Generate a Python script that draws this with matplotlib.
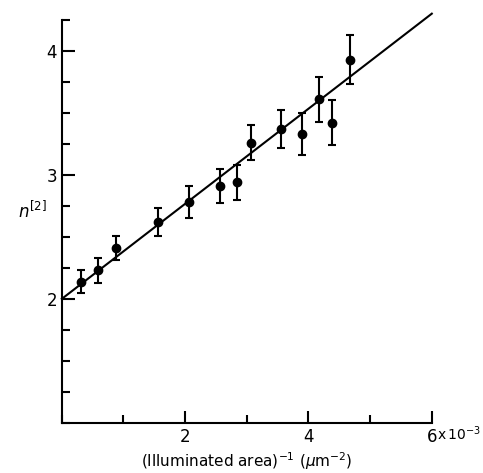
import matplotlib.pyplot as plt
import numpy as np
from matplotlib.ticker import MultipleLocator

# data (x in units of 1e-3 um^-2)
inv_area = [0.31, 0.58, 0.875, 1.56, 2.06, 2.56, 2.84, 3.06, 3.56, 3.89, 4.17, 4.38, 4.67]
n2 = [2.14, 2.23, 2.41, 2.62, 2.78, 2.91, 2.94, 3.26, 3.37, 3.33, 3.61, 3.42, 3.93]
n2_err = [0.09, 0.10, 0.10, 0.11, 0.13, 0.14, 0.14, 0.14, 0.15, 0.17, 0.18, 0.18, 0.20]

fit_x = [0, 6]
fit_y = [2.0, 4.3]

fig = plt.figure(figsize=(4.83, 4.73), dpi=100)
ax = fig.add_axes([0.128, 0.106, 0.766, 0.852])

ax.plot(fit_x, fit_y, color='black', lw=1.5, clip_on=False)
ax.errorbar(inv_area, n2, yerr=n2_err, fmt='o', color='black', ms=6,
            capsize=3, capthick=1.5, elinewidth=1.5)

ax.set_xlim(0, 6)
ax.set_ylim(1.0, 4.25)
ax.spines['top'].set_visible(False)
ax.spines['right'].set_visible(False)
ax.spines['left'].set_linewidth(1.5)
ax.spines['bottom'].set_linewidth(1.5)

ax.set_xticks([2, 4, 6])
ax.set_xticklabels(['2', '4', '6'])
ax.xaxis.set_minor_locator(MultipleLocator(1))
ax.set_yticks([2, 3, 4])
ax.yaxis.set_minor_locator(MultipleLocator(0.25))
ax.tick_params(which='both', direction='in', width=1.5, labelsize=12)
ax.tick_params(which='major', length=9)
ax.tick_params(which='minor', length=6)

# multiplier written next to the last tick label, as in the original
ax.annotate(r'x$\,$10$^{-3}$', xy=(6, 0), xycoords=('data', 'axes fraction'),
            xytext=(4, -12.5), textcoords='offset points',
            ha='left', va='baseline', fontsize=10, annotation_clip=False)

ax.set_xlabel(r'(Illuminated area)$^{-1}$ ($\mu$m$^{-2}$)', fontsize=11, labelpad=3)
ax.set_ylabel(r'$n^{[2]}$', fontsize=12, rotation=0, labelpad=10)

plt.savefig('out.png', dpi=100)
